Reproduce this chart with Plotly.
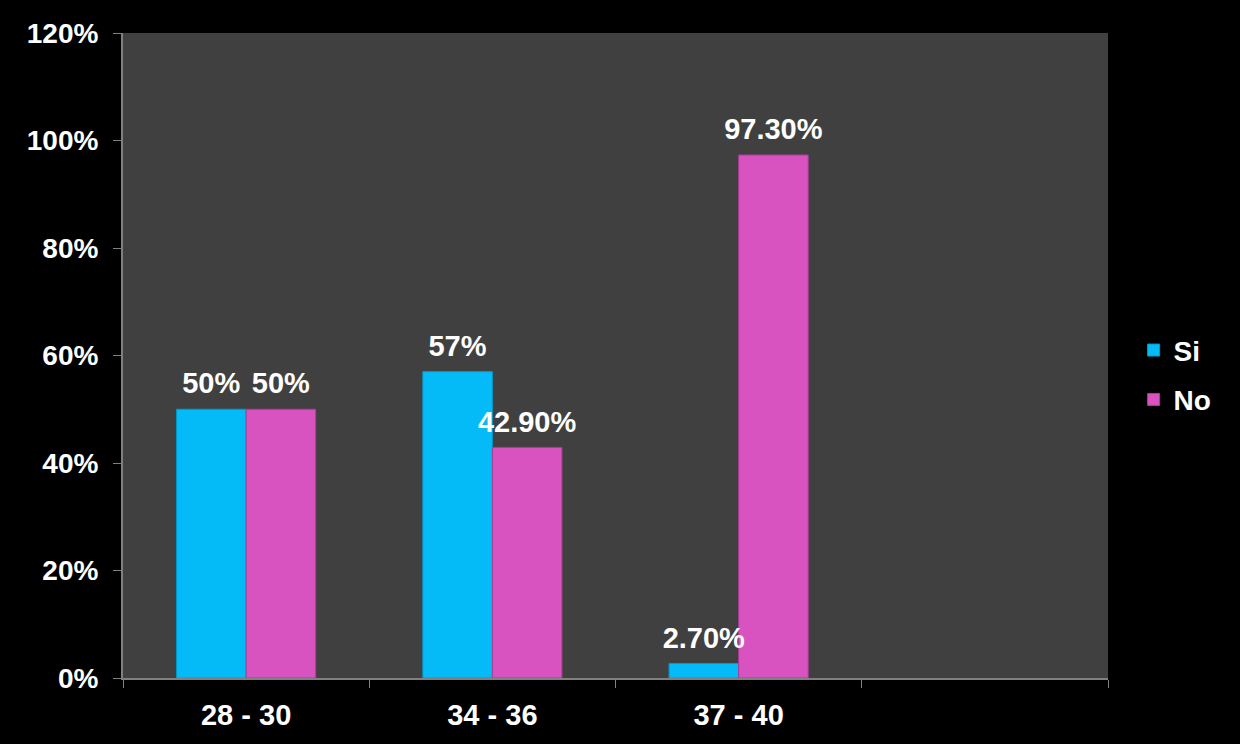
import plotly.graph_objects as go

categories = ["28 - 30", "34 - 36", "37 - 40", " "]
si_values = [50, 57, 2.7, None]
no_values = [50, 42.9, 97.3, None]
si_labels = ["50%", "57%", "2.70%", ""]
no_labels = ["50%", "42.90%", "97.30%", ""]
y_ticks = [0, 20, 40, 60, 80, 100, 120]
y_tick_labels = ["0%", "20%", "40%", "60%", "80%", "100%", "120%"]

FONT = "Arial, Liberation Sans, sans-serif"
LABEL_BAND = 9.6  # height (in axis units) of the invisible band that carries each label

fig = go.Figure()
fig.add_trace(go.Bar(
    name="Si", x=categories, y=si_values, offsetgroup="si", legendgroup="si",
    marker=dict(color="#04BBF7", line=dict(color="#0598C8", width=1)),
))
fig.add_trace(go.Bar(
    name="No", x=categories, y=no_values, offsetgroup="no", legendgroup="no",
    marker=dict(color="#D853C0", line=dict(color="#A83E95", width=1)),
))
# invisible bars sitting on top of each bar, used only to place the value labels
for vals, labels, grp in [(si_values, si_labels, "si"), (no_values, no_labels, "no")]:
    fig.add_trace(go.Bar(
        x=categories, y=[LABEL_BAND if v is not None else None for v in vals],
        base=vals, offsetgroup=grp, showlegend=False, hoverinfo="skip",
        text=labels, textposition="inside", insidetextanchor="middle",
        textangle=0, constraintext="none", cliponaxis=False,
        textfont=dict(family=FONT, size=29, color="white", weight="bold"),
        marker=dict(color="rgba(0,0,0,0)", line=dict(width=0)),
    ))

fig.update_layout(
    width=1240, height=744,
    paper_bgcolor="black", plot_bgcolor="#404040",
    margin=dict(l=123, r=132, t=33, b=66),
    barmode="group", bargap=0.435, bargroupgap=0,
    font=dict(family=FONT, size=26, color="white", weight="bold"),
    showlegend=True,
    legend=dict(x=1.026, y=0.47, xanchor="left", yanchor="middle",
                font=dict(family=FONT, size=28, color="white", weight="bold"),
                bgcolor="rgba(0,0,0,0)", tracegroupgap=10),
)
fig.update_xaxes(
    type="category", tickson="boundaries", ticks="outside", ticklen=8,
    tickcolor="#808080", showline=True, linecolor="#808080", linewidth=2,
    showgrid=False, tickfont=dict(family=FONT, size=29, color="white", weight="bold"),
    ticklabelstandoff=10, range=[-0.5, 3.5],
)
fig.update_yaxes(
    range=[0, 120], tickvals=y_ticks, ticktext=y_tick_labels,
    ticks="outside", ticklen=8, tickcolor="#808080",
    showline=True, linecolor="#808080", linewidth=2, showgrid=False,
    zeroline=False, tickfont=dict(family=FONT, size=28, color="white", weight="bold"),
    ticklabelstandoff=9,
)

fig.write_html(
    "out.html",
    config={"displayModeBar": False},
    post_script="document.body.style.margin='0';document.body.style.background='black';",
)
